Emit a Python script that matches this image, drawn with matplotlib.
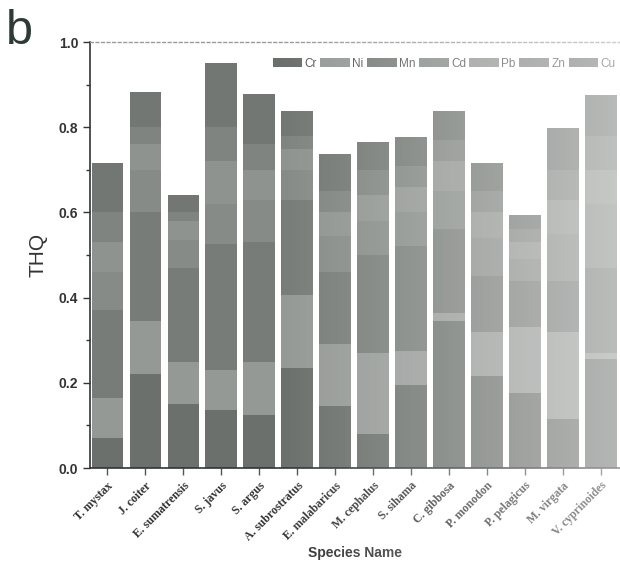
import numpy as np
import matplotlib
matplotlib.use("Agg")
import matplotlib.pyplot as plt
from matplotlib.ticker import MultipleLocator

species = ["T. mystax", "J. coiter", "E. sumatrensis", "S. javus", "S. argus",
           "A. subrostratus", "E. malabaricus", "M. cephalus", "S. sihama",
           "C. gibbosa", "P. monodon", "P. pelagicus", "M. virgata", "V. cyprinoides"]
metals = ["Cr", "Ni", "Mn", "Cd", "Pb", "Zn", "Cu"]

cr = [0.070, 0.220, 0.150, 0.135, 0.125, 0.235, 0.145, 0.080, 0.195, 0.345, 0.215, 0.175, 0.115, 0.255]
ni = [0.095, 0.125, 0.100, 0.095, 0.125, 0.170, 0.145, 0.190, 0.080, 0.020, 0.105, 0.155, 0.205, 0.015]
mn = [0.205, 0.255, 0.220, 0.295, 0.280, 0.225, 0.170, 0.230, 0.245, 0.195, 0.130, 0.110, 0.120, 0.200]
cd = [0.090, 0.100, 0.065, 0.095, 0.100, 0.070, 0.085, 0.080, 0.080, 0.090, 0.090, 0.050, 0.110, 0.150]
pb = [0.070, 0.060, 0.045, 0.100, 0.070, 0.050, 0.055, 0.060, 0.060, 0.070, 0.060, 0.040, 0.080, 0.080]
zn = [0.070, 0.040, 0.020, 0.080, 0.060, 0.030, 0.050, 0.060, 0.050, 0.050, 0.050, 0.030, 0.070, 0.080]
cu = [0.115, 0.082, 0.041, 0.151, 0.117, 0.059, 0.086, 0.065, 0.068, 0.069, 0.065, 0.034, 0.097, 0.096]

series = [cr, ni, mn, cd, pb, zn, cu]
colors = ["#6b706c", "#959996", "#777c78", "#868b87", "#8f938f", "#7f8480", "#727773"]

fig = plt.figure(figsize=(6.2, 5.64), dpi=100)
ax = fig.add_axes([90 / 620, 1 - 468 / 564, 530 / 620, 426 / 564])

x = np.arange(len(species))
bottom = np.zeros(len(species))
for name, vals, col in zip(metals, series, colors):
    vals = np.array(vals)
    ax.bar(x, vals, width=0.82, bottom=bottom, color=col, label=name,
           edgecolor="none", linewidth=0)
    bottom += vals

ax.set_xlim(-0.45, 13.5)
ax.set_ylim(0, 1.0)
ax.yaxis.set_minor_locator(MultipleLocator(0.1))
ticks = np.arange(0, 1.01, 0.2)
ax.set_yticks(ticks)
ax.set_yticklabels([f"{v:.1f}" for v in ticks],
                   fontsize=10, fontweight="bold", family="Liberation Sans", color="#333333")
ax.tick_params(axis="y", which="major", direction="out", length=5, width=1, color="#333333")
ax.tick_params(axis="y", which="minor", direction="out", length=3, width=1, color="#333333")
ax.set_xticks(x)
ax.set_xticklabels(species, rotation=45, ha="right", rotation_mode="anchor",
                   fontsize=8.5, fontweight="bold", family="Liberation Serif", color="#333333")
ax.tick_params(axis="x", direction="out", length=5, width=1, color="#555555")

ax.spines["right"].set_visible(False)
ax.spines["top"].set_linestyle((0, (2, 2)))
ax.spines["top"].set_color("#9a9a9a")
ax.spines["top"].set_linewidth(1)
for s in ["left", "bottom"]:
    ax.spines[s].set_color("#333333")
    ax.spines[s].set_linewidth(1.2)

ax.set_ylabel("THQ", fontsize=15, family="Liberation Sans", color="#333333", labelpad=8)
ax.set_xlabel("Species Name", fontsize=10, fontweight="bold", family="Liberation Sans",
              color="#333333", labelpad=2)

leg = ax.legend(loc="upper right", bbox_to_anchor=(1.005, 0.98), ncol=7, frameon=False,
                fontsize=8.5, handlelength=2.5, handleheight=0.9, handletextpad=0.2,
                columnspacing=0.3, borderaxespad=0.2)
for t in leg.get_texts():
    t.set_color("#555555")
    t.set_family("Liberation Sans")

fig.text(0.010, 0.922, "b", fontsize=35, color="#2e3b35", family="Liberation Sans")

# fading toward the right side of the scanned page
overlay = fig.add_axes([0, 0, 1, 1], zorder=10)
overlay.axis("off")
grad = np.linspace(0, 1, 256)
alpha = np.clip((grad - 0.45) / 0.55, 0, 1) * 0.5
rgba = np.ones((1, 256, 4))
rgba[..., 3] = alpha
overlay.imshow(rgba, aspect="auto", extent=[0, 1, 0, 1], interpolation="bilinear")
overlay.set_xlim(0, 1)
overlay.set_ylim(0, 1)

fig.savefig("out.png", dpi=100, facecolor="white")
